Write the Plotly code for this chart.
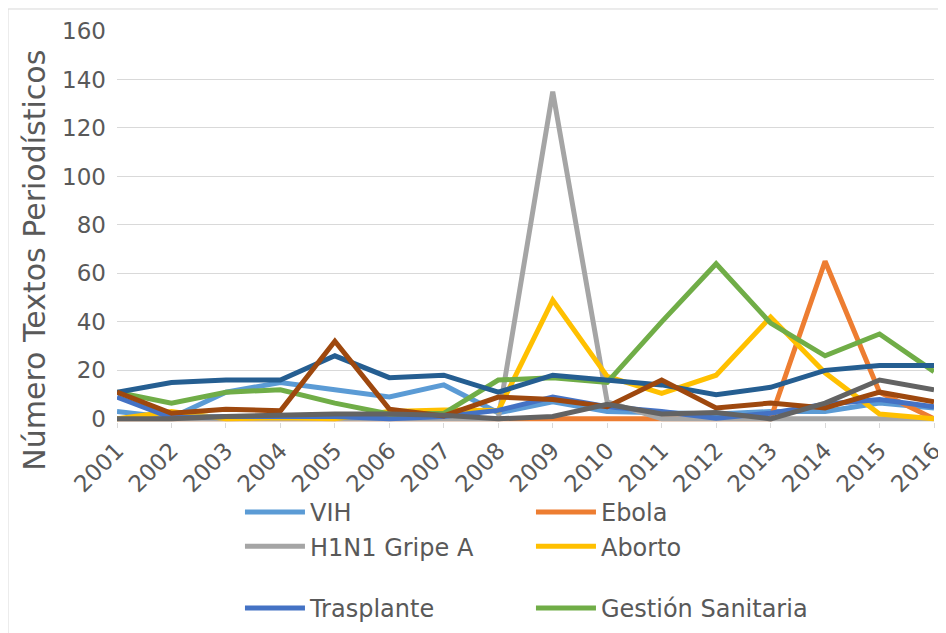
import plotly.graph_objects as go

years = list(range(2001, 2017))

vih = [3, 0.5, 11, 15, 12, 9, 14, 2.5, 7, 3, 2.5, 2, 3, 3, 6.5, 4.5]
ebola = [0, 0, 0, 0, 0, 0, 0, 0, 0, 0, 0, 0, 0, 65, 11, 0]
h1n1 = [0, 0, 0, 0, 0, 0, 0, 0, 135, 7, 0, 0, 0, 0, 0, 0]
aborto = [0, 3, 0, 0.5, 0, 3, 3.7, 3.4, 49, 17.5, 10.5, 18, 42, 19, 2, 0]
trasplante = [9, 0.5, 1, 1, 1, 0, 1, 3.5, 9, 5, 3, 0.3, 2.3, 6, 8, 5]
gestion = [11, 6.5, 11, 12, 6.5, 2, 2.3, 16, 17, 15, 40, 64, 39.5, 26, 35, 19.5]
serie7 = [11, 15, 16, 16, 26, 17, 18, 11, 18, 16, 14, 10, 13, 20, 22, 22]
serie8 = [11, 2.3, 4, 3.3, 32, 4, 1.2, 9, 8, 5, 16, 4.5, 6.5, 4.5, 11, 7]
serie9 = [0, 0, 1, 1.7, 2, 2, 1.5, 0, 1, 6, 2, 2.6, 0, 6.5, 16, 12]

series = [
    ("VIH", vih, "#5B9BD5", True, "legend"),
    ("Ebola", ebola, "#ED7D31", True, "legend"),
    ("H1N1 Gripe A", h1n1, "#A5A5A5", True, "legend"),
    ("Aborto", aborto, "#FFC000", True, "legend"),
    ("Trasplante", trasplante, "#4472C4", True, "legend2"),
    ("Gestión Sanitaria", gestion, "#70AD47", True, "legend2"),
    ("Serie 7", serie7, "#255E91", False, "legend"),
    ("Serie 8", serie8, "#9E480E", False, "legend"),
    ("Serie 9", serie9, "#636363", False, "legend"),
]

FONT = "DejaVu Sans"
TXT = "#595959"
GRID = "#D9D9D9"

fig = go.Figure()
for name, vals, color, show, leg in series:
    fig.add_trace(go.Scatter(
        x=years, y=vals, name=name, mode="lines",
        line=dict(color=color, width=5),
        showlegend=show, legend=leg,
    ))

legend_style = dict(
    orientation="h", xref="container", yref="container",
    xanchor="left", yanchor="top",
    entrywidth=216, entrywidthmode="pixels", itemwidth=60,
    font=dict(size=24, color=TXT, family=FONT),
    bgcolor="rgba(0,0,0,0)",
)

# the page body has an 8px margin, so the figure is 8px smaller on each side
fig.update_layout(
    width=938, height=625,
    margin=dict(l=109, r=12, t=23, b=211, autoexpand=False),
    paper_bgcolor="white", plot_bgcolor="white",
    font=dict(family=FONT, color=TXT, size=23),
    xaxis=dict(
        range=[2001, 2016], tickmode="array", tickvals=years,
        ticktext=[str(y) for y in years], tickangle=-45,
        showgrid=False, showline=False, zeroline=False, automargin=False,
        ticks="outside", ticklen=5, tickcolor=GRID, tickwidth=1,
        tickfont=dict(size=23, color=TXT, family=FONT),
    ),
    yaxis=dict(
        range=[-1.3, 160], tickvals=[0, 20, 40, 60, 80, 100, 120, 140, 160],
        showgrid=True, gridcolor=GRID, gridwidth=1, automargin=False,
        zeroline=True, zerolinecolor=GRID, zerolinewidth=1,
        showline=False, ticks="", ticklabelstandoff=10,
        tickfont=dict(size=23, color=TXT, family=FONT),
    ),
    legend=dict(legend_style, x=0.2473, y=0.2288),
    legend2=dict(legend_style, x=0.2473, y=0.0752),
    annotations=[dict(
        text="Número Textos Periodísticos", textangle=-90,
        xref="paper", yref="paper", x=-0.1004, y=0.415,
        xanchor="center", yanchor="middle", showarrow=False,
        font=dict(size=30, color=TXT, family=FONT),
    )],
    shapes=[dict(
        type="rect", xref="paper", yref="paper",
        x0=-0.1334, y0=-1.0, x1=1.3, y1=1.0563,
        line=dict(color=GRID, width=1), fillcolor="rgba(0,0,0,0)",
        layer="below",
    )],
)

fig.write_html("out.html")
